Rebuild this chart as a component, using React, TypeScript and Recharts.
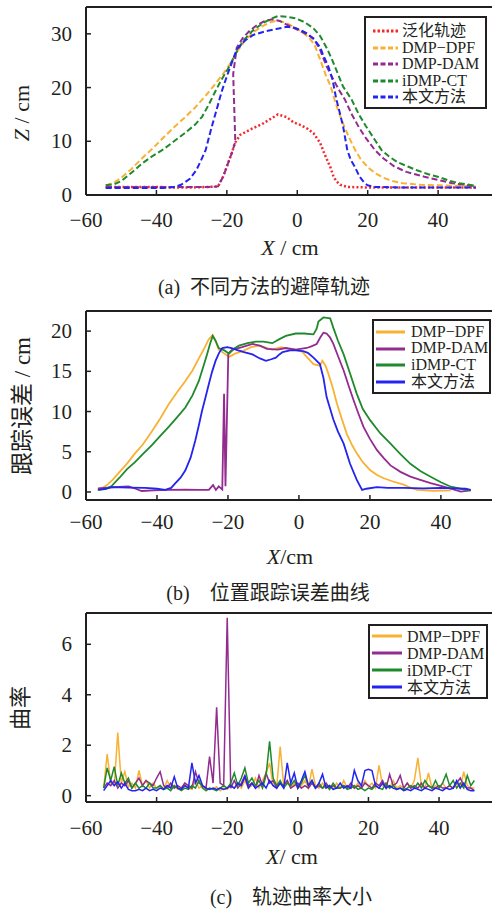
import React from 'react';
import { LineChart, Line, XAxis, YAxis, ReferenceLine } from 'recharts';

const SERIF = '"Liberation Serif", "Times New Roman", Tinos, "DejaVu Serif", "Noto Sans CJK SC", serif';
const INK = '#231f20';

const C_RED = '#f42a2a';
const C_ORANGE = '#f8b133';
const C_PURPLE = '#922c90';
const C_GREEN = '#1f8a2c';
const C_BLUE = '#2424f0';

// 图(a) 避障轨迹  X / Z (cm)
const aRedX = [-54.4, -50, -45, -40, -35, -30, -25, -22.5, -21, -20, -18.5, -17.7, -16.2, -13, -10, -7.5, -5.5, -3, -1, 1, 3, 4.6, 6.5, 7.5, 8.5, 9.5, 10.3, 11.2, 12.2, 14.2, 20, 30, 40, 50.7];
const aRedZ = [1.5, 1.5, 1.5, 1.5, 1.4, 1.4, 1.5, 1.6, 3.5, 5.3, 8, 9.7, 11.2, 12.3, 13.2, 14.2, 15, 14.5, 13.5, 13, 12.3, 11.5, 9.7, 8, 6.5, 5, 3.4, 2.5, 1.9, 1.5, 1.4, 1.4, 1.4, 1.4];

const aDpfX = [-54.4, -52, -50, -47, -44, -41, -38, -35, -32, -29, -26, -23.5, -21, -19, -17, -15, -12.5, -10, -7.5, -5.5, -3, -1, 1.5, 3.5, 5, 6.5, 8, 9.5, 10.7, 12, 13.5, 15, 16.5, 18, 20, 22, 24.5, 27, 30, 35, 40, 45, 50.7];
const aDpfZ = [1.8, 2.3, 3.2, 4.9, 6.9, 8.7, 10.7, 12.6, 14.4, 16.3, 18.5, 20.5, 22.6, 24.5, 26.8, 28.6, 30.3, 31.4, 32.2, 32.5, 32, 31.3, 30.3, 29.2, 27.8, 25.2, 22.5, 20.2, 17.5, 15, 12.5, 10.3, 8.3, 6.7, 5.2, 4.1, 3.2, 2.6, 2.2, 1.9, 1.8, 1.7, 1.6];

const aDamX = [-54.4, -45, -35, -25, -22.5, -21, -20, -18.5, -17.6, -18.2, -17.2, -15.5, -13.5, -11.5, -9.5, -7.2, -5, -2, 1, 3, 4.6, 6.5, 8.3, 10, 11.8, 13.5, 15.5, 17.5, 19.5, 22, 24.5, 27.6, 31, 36.1, 40, 44, 50.7];
const aDamZ = [1.5, 1.5, 1.5, 1.5, 1.6, 3.5, 5.3, 8, 9.9, 22.5, 27.4, 29.2, 30.6, 31.6, 32.3, 32.7, 32.4, 31.4, 30.5, 29.8, 29.2, 27, 24, 21.8, 19.6, 17.8, 15, 12.6, 10.6, 8.4, 6.8, 5.3, 4.3, 3.4, 2.8, 2.2, 1.6];

const aCtX = [-54.4, -52, -50, -47, -44, -41, -38, -35, -32, -29, -27, -25, -23.5, -21.5, -19.5, -17.5, -15.5, -13, -10, -7.5, -5.5, -3, -0.5, 2, 4.5, 6.5, 8.5, 10, 11.5, 13, 15.4, 17.5, 19.5, 22, 23.9, 26, 28.5, 31.4, 34, 37, 39.9, 43, 46, 50.7];
const aCtZ = [1.8, 2, 2.6, 4.2, 5.9, 7.3, 8.5, 10, 11.5, 13.1, 14.6, 17, 19, 21.5, 23.7, 26.3, 28.6, 30.4, 31.9, 32.8, 33.3, 33.2, 32.9, 32.2, 31.1, 29.6, 27.2, 25, 22.6, 20.2, 17.8, 15, 12.8, 10.3, 8.4, 7.2, 6.1, 5.3, 4.6, 3.9, 3.4, 2.7, 2.2, 1.7];

const aOursX = [-54.4, -48, -42, -38, -35, -33, -30.5, -28.6, -27.3, -26, -24.5, -22.9, -21.5, -20, -18.5, -17.2, -15, -12.5, -9, -6, -3, -1, 1, 3, 5, 6.5, 7.5, 8.8, 10, 11.1, 12, 13, 14.2, 15.2, 16.3, 17.7, 19, 20, 22, 30, 40, 50.7];
const aOursZ = [1.3, 1.3, 1.3, 1.3, 1.5, 1.9, 3, 4.7, 6.5, 8.4, 12.2, 15.9, 19.2, 22.1, 24.8, 27.1, 28.7, 29.8, 30.5, 30.9, 31.3, 31.2, 30.7, 30, 28.8, 27.5, 25.8, 24, 21.5, 17.8, 15.5, 12.8, 8.4, 6.5, 5.3, 3.4, 2.3, 1.8, 1.5, 1.4, 1.4, 1.4];

// 图(b) 位置跟踪误差  X / 误差 (cm)
const bDpfX = [-56.8, -55, -53.7, -52.5, -50.9, -48.5, -46.2, -44, -41.5, -39, -36.7, -34.5, -32, -30, -28.2, -26.5, -25.4, -24.3, -23.5, -22.6, -21, -19.7, -18, -16, -13.5, -11.3, -9, -7.5, -5, -3, -0.9, 1, 2.2, 4.1, 5.9, 6.6, 7.5, 8.3, 9.5, 10.7, 12, 13.5, 15, 16.3, 18, 20.1, 22, 23.9, 26.5, 29.5, 31.5, 33.3, 38, 42.8];
const bDpfE = [0.3, 0.6, 1, 1.5, 2.3, 3.5, 4.8, 5.9, 7.5, 9.2, 10.9, 12.3, 13.8, 15.1, 16.6, 18, 19, 19.5, 18.8, 17.7, 17.2, 16.8, 17.2, 17.5, 18, 18.2, 17.9, 17.7, 18, 17.8, 17.7, 17.4, 16.8, 15.9, 15.7, 16.3, 15.7, 14.7, 13, 11, 9.2, 7.2, 5.8, 4.8, 3.7, 2.7, 2.1, 1.7, 1.3, 0.9, 0.5, 0.25, 0.15, 0.2];

const bDamX = [-56.6, -52, -48, -46, -44.3, -41, -36.7, -32, -28, -25.4, -24.2, -23.4, -22.6, -21.6, -21.1, -20.7, -19.9, -18.8, -16, -13.1, -11, -9, -6, -3.7, -0.9, 2.2, 3.5, 5, 6, 6.9, 7.8, 8.8, 9.7, 11, 12.6, 14, 15.4, 16.8, 18.2, 20, 22, 23.9, 25.8, 28.6, 31.4, 34.2, 37.1, 40, 42.8, 45.6, 48.4];
const bDamE = [0.45, 0.6, 0.7, 0.4, 0.12, 0.2, 0.25, 0.3, 0.25, 0.25, 0.86, 0.25, 0.7, 0.3, 12.2, 0.7, 17.2, 17.7, 18, 18.4, 18.2, 17.8, 17.7, 17.9, 17.7, 17.9, 18.1, 18.4, 19.2, 19.8, 19.7, 19.2, 18.4, 16.9, 15.1, 13.2, 11.4, 9.7, 8.1, 6.6, 5.2, 4.2, 3.3, 2.5, 1.9, 1.5, 1.1, 0.75, 0.4, 0.05, 0.2];

const bCtX = [-56.6, -54.5, -52.8, -50.5, -48.5, -46.2, -44, -41.5, -39, -36.7, -34.3, -32, -30, -28.2, -27, -25.9, -25, -24.3, -23.5, -22.6, -21, -19.7, -18.3, -16.9, -14.5, -12.2, -10, -7.5, -5.5, -3.7, -0.9, 1.5, 4.1, 5, 5.5, 6.9, 8.8, 9.7, 11, 12.6, 14.5, 16.3, 18, 20.1, 22.9, 25.8, 28.6, 31.4, 34.2, 37.1, 40, 42.8, 45.5, 48.4];
const bCtE = [0.25, 0.35, 0.74, 1.8, 2.8, 3.7, 4.7, 5.8, 7, 8.1, 9.3, 10.5, 12, 13.8, 15.5, 17.1, 18.5, 19.4, 18.8, 17.9, 17.6, 17.2, 17.8, 18.2, 18.5, 18.7, 18.7, 18.5, 19, 19.4, 19.7, 19.7, 19.6, 20.3, 21.2, 21.7, 21.6, 20.4, 18.8, 17.1, 14.6, 12.2, 10.3, 8.9, 7.3, 6, 4.7, 3.5, 2.6, 1.9, 1.2, 0.65, 0.4, 0.2];

const bOursX = [-56.6, -54, -52.8, -48, -43.3, -40, -37.7, -36, -34.8, -33.3, -32, -30.5, -29.2, -28.2, -27.3, -26.3, -25.4, -24.5, -23.5, -22.5, -21.6, -20.2, -19, -17.8, -15.5, -13.1, -11, -9.3, -7.8, -6.5, -5.5, -4.6, -2.5, -0.9, 1.2, 2.5, 4.1, 5.9, 6.9, 7.8, 9.7, 11, 12.6, 14.4, 16.3, 17.8, 19, 22, 25, 29.5, 35, 39.9, 44, 47, 48.4];
const bOursE = [0.25, 0.45, 0.6, 0.55, 0.5, 0.4, 0.25, 0.5, 1.1, 1.8, 2.7, 4.3, 6.4, 8.3, 10.1, 11.8, 13.4, 14.9, 16.3, 17.3, 17.9, 18, 17.9, 17.7, 17.4, 17.1, 16.6, 16.3, 16.5, 16.7, 17.1, 17.4, 17.6, 17.6, 17.5, 17.3, 16.7, 15.9, 14.2, 11.8, 9, 7.5, 6, 3.5, 1.5, 0.25, 0.4, 0.6, 0.5, 0.5, 0.45, 0.5, 0.45, 0.4, 0.25];

// 图(c) 轨迹曲率  X / 曲率
const cX = [
  -55, -54, -53, -52, -51, -50, -49, -48, -47, -46,
  -45, -44, -43, -42, -41, -40, -39, -38, -37, -36,
  -35, -34, -33, -32, -31, -30, -29, -28, -27, -26,
  -25, -24, -23, -22, -21, -20, -19, -18, -17, -16,
  -15, -14, -13, -12, -11, -10, -9, -8, -7, -6,
  -5, -4, -3, -2, -1, 0, 1, 2, 3, 4,
  5, 6, 7, 8, 9, 10, 11, 12, 13, 14,
  15, 16, 17, 18, 19, 20, 21, 22, 23, 24,
  25, 26, 27, 28, 29, 30, 31, 32, 33, 34,
  35, 36, 37, 38, 39, 40, 41, 42, 43, 44,
  45, 46, 47, 48, 49, 50,
];
const cDpf = [
  0.3, 1.65, 0.5, 0.4, 2.5, 0.5, 0.95, 0.35, 0.5, 0.3,
  1.0, 0.4, 0.6, 0.3, 0.5, 0.3, 0.4, 0.25, 0.6, 0.3,
  0.4, 0.25, 0.3, 0.5, 0.3, 0.25, 0.6, 0.3, 0.4, 0.2,
  0.3, 0.25, 0.35, 0.2, 0.3, 0.25, 0.4, 0.3, 0.5, 0.3,
  0.6, 0.3, 0.4, 0.7, 0.3, 0.6, 0.9, 1.3, 0.4, 0.3,
  1.95, 0.4, 0.6, 0.3, 0.5, 0.3, 0.4, 0.6, 0.3, 1.05,
  0.4, 0.3, 0.5, 0.3, 0.4, 0.25, 0.5, 0.3, 0.6, 0.3,
  0.4, 0.3, 0.5, 0.3, 0.6, 0.35, 0.5, 0.3, 1.2, 0.4,
  0.5, 0.3, 0.6, 0.3, 0.4, 0.3, 0.5, 0.3, 0.6, 1.5,
  0.4, 0.3, 0.9, 0.3, 0.4, 0.3, 0.5, 0.3, 0.4, 0.3,
  0.5, 0.3, 0.95, 0.4, 0.3, 0.3,
];
const cDam = [
  0.3, 0.5, 0.4, 0.6, 0.3, 0.5, 0.4, 0.6, 0.3, 0.5,
  0.7, 0.4, 0.6, 0.5, 0.4, 0.7, 0.95, 0.4, 0.3, 0.5,
  0.3, 0.4, 0.3, 0.5, 0.4, 0.3, 0.95, 0.5, 0.4, 0.3,
  1.55, 0.5, 3.5, 0.5, 0.4, 7.05, 0.3, 0.6, 0.3, 0.5,
  0.8, 0.4, 0.5, 0.3, 0.8, 0.4, 0.9, 0.5, 0.6, 0.3,
  0.5, 0.4, 0.6, 0.3, 0.4, 0.5, 0.3, 0.4, 0.3, 0.5,
  0.3, 0.4, 0.3, 0.5, 0.3, 0.4, 0.3, 0.3, 0.4, 0.3,
  0.5, 0.3, 0.4, 0.3, 0.5, 0.4, 0.3, 0.5, 0.4, 0.6,
  0.3, 0.85, 0.4, 0.5, 0.8, 0.3, 0.5, 0.3, 0.4, 0.3,
  0.5, 0.3, 0.4, 0.3, 0.3, 0.4, 0.3, 0.3, 0.4, 0.3,
  0.5, 0.7, 0.4, 0.3, 0.3, 0.2,
];
const cCt = [
  0.3, 1.1, 0.6, 1.15, 0.4, 0.9, 0.5, 0.7, 0.3, 0.5,
  0.3, 0.4, 0.3, 0.5, 0.3, 0.3, 0.4, 0.25, 0.3, 0.2,
  0.4, 0.3, 0.2, 0.3, 0.25, 0.4, 0.3, 0.6, 0.3, 0.2,
  0.3, 0.25, 0.2, 0.3, 0.4, 0.3, 0.5, 0.9, 0.4, 0.7,
  1.1, 0.5, 0.7, 0.4, 0.6, 0.3, 0.8, 2.15, 0.7, 0.4,
  0.6, 0.3, 0.5, 0.4, 0.6, 0.3, 0.5, 0.8, 0.4, 0.6,
  0.3, 0.5, 0.3, 0.4, 0.25, 0.5, 0.3, 0.3, 0.4, 0.25,
  0.3, 0.4, 0.25, 0.3, 0.2, 0.3, 0.25, 0.4, 0.3, 0.25,
  0.5, 0.3, 0.4, 0.25, 0.3, 0.25, 0.3, 0.4, 0.3, 0.5,
  0.3, 0.6, 0.4, 0.3, 0.6, 0.3, 0.5, 0.85, 0.4, 0.6,
  0.3, 0.5, 0.3, 0.8, 0.4, 0.6,
];
const cOurs = [
  0.2, 0.4, 0.6, 0.4, 0.55, 0.3, 0.5, 0.25, 0.2, 0.2,
  0.25, 0.2, 0.3, 0.2, 0.25, 0.2, 0.3, 0.25, 0.4, 0.3,
  0.75, 0.3, 0.25, 0.4, 0.3, 1.3, 0.5, 0.8, 0.4, 0.3,
  0.25, 0.3, 0.25, 0.3, 0.25, 0.3, 0.4, 0.3, 0.5, 0.4,
  0.75, 0.3, 0.5, 0.3, 0.4, 0.5, 0.3, 0.6, 0.4, 0.3,
  0.5, 0.3, 1.3, 0.5, 0.9, 0.3, 0.6, 0.95, 0.4, 0.6,
  0.3, 0.5, 0.85, 0.3, 0.4, 0.25, 0.3, 0.5, 0.3, 0.4,
  0.3, 1.0, 0.6, 0.4, 1.0, 1.05, 1.0, 0.4, 0.3, 0.5,
  0.3, 0.4, 0.3, 0.25, 0.3, 0.2, 0.25, 0.2, 0.3, 0.25,
  0.2, 0.3, 0.25, 0.2, 0.3, 0.25, 0.2, 0.3, 0.25, 0.3,
  0.6, 0.3, 0.5, 0.25, 0.2, 0.2,
];

const xTicks = [-60, -40, -20, 0, 20, 40];

const pts = (xs: number[], ys: number[]) => xs.map((x, i) => ({ x, y: ys[i] }));
const fmt = (v: number) => String(v).replace('-', '\u2212');

// 刻度朝内
const makeXTick = (dy: number) => (props: any) => {
  const { x, y, payload } = props;
  return (
    <g>
      <line x1={x} y1={y} x2={x} y2={y - 5} stroke={INK} strokeWidth={1.5} />
      <text x={x} y={y + dy} textAnchor="middle" fontSize={21} fill={INK} style={{ fontFamily: SERIF }}>
        {fmt(payload.value)}
      </text>
    </g>
  );
};

const YTick = (props: any) => {
  const { x, y, payload } = props;
  return (
    <g>
      <line x1={x} y1={y} x2={x + 5} y2={y} stroke={INK} strokeWidth={1.5} />
      <text x={x - 14} y={y + 7} textAnchor="end" fontSize={21} fill={INK} style={{ fontFamily: SERIF }}>
        {payload.value}
      </text>
    </g>
  );
};

type LegendItem = { name: string; color: string; dash?: string };

function LegendBox({ items, left, top, width, rowH, sampleW, pad, gap, dashed }: {
  items: LegendItem[]; left: number; top: number; width: number; rowH: number;
  sampleW: number; pad: string; gap: number; dashed?: boolean;
}) {
  return (
    <div
      style={{
        position: 'absolute', left, top, width, boxSizing: 'border-box',
        border: `2px solid ${INK}`, padding: pad, background: '#fff',
        fontFamily: SERIF, fontSize: 16, color: INK,
      }}
    >
      {items.map((it) => (
        <div key={it.name} style={{ height: rowH, display: 'flex', alignItems: 'center', whiteSpace: 'nowrap' }}>
          <svg width={sampleW} height={6} style={{ marginRight: gap, flex: 'none' }}>
            <line x1={0} y1={3} x2={sampleW} y2={3} stroke={it.color} strokeWidth={3}
              strokeDasharray={dashed ? it.dash : undefined} />
          </svg>
          <span style={{ lineHeight: `${rowH}px` }}>{it.name}</span>
        </div>
      ))}
    </div>
  );
}

const txt: React.CSSProperties = {
  position: 'absolute', fontFamily: SERIF, color: INK, whiteSpace: 'nowrap',
  transform: 'translate(-50%, -50%)',
};
const rot: React.CSSProperties = { ...txt, transform: 'translate(-50%, -50%) rotate(-90deg)' };

const axisLine = { stroke: INK, strokeWidth: 2 };

function ChartA() {
  return (
    <div style={{ position: 'absolute', left: 0, top: 0, width: 492, height: 300 }}>
      <LineChart width={492} height={300} margin={{ top: 7, right: 0, left: 26, bottom: 75 }}>
        <XAxis dataKey="x" type="number" domain={[-60, 55.3]} ticks={xTicks} allowDataOverflow
          height={30} tickSize={0} tickMargin={0} axisLine={axisLine} tickLine={false} tick={makeXTick(32)} />
        <YAxis type="number" domain={[0, 35]} ticks={[0, 10, 20, 30]} allowDataOverflow
          width={60} tickSize={0} tickMargin={0} axisLine={axisLine} tickLine={false} tick={YTick} />
        <ReferenceLine y={35} stroke={INK} strokeWidth={2} />
        <Line data={pts(aRedX, aRedZ)} dataKey="y" stroke={C_RED} strokeWidth={2.5} strokeDasharray="2 2.2" dot={false} isAnimationActive={false} />
        <Line data={pts(aDpfX, aDpfZ)} dataKey="y" stroke={C_ORANGE} strokeWidth={2} strokeDasharray="6 3" dot={false} isAnimationActive={false} />
        <Line data={pts(aDamX, aDamZ)} dataKey="y" stroke={C_PURPLE} strokeWidth={2} strokeDasharray="6 3" dot={false} isAnimationActive={false} />
        <Line data={pts(aCtX, aCtZ)} dataKey="y" stroke={C_GREEN} strokeWidth={2} strokeDasharray="6 3" dot={false} isAnimationActive={false} />
        <Line data={pts(aOursX, aOursZ)} dataKey="y" stroke={C_BLUE} strokeWidth={2} strokeDasharray="6 3" dot={false} isAnimationActive={false} />
      </LineChart>
      <LegendBox
        left={364} top={16} width={123} rowH={16.5} sampleW={25} gap={4} pad="5px 0 1px 7px" dashed
        items={[
          { name: '泛化轨迹', color: C_RED, dash: '2.5 2' },
          { name: 'DMP\u2212DPF', color: C_ORANGE, dash: '5 2.5' },
          { name: 'DMP-DAM', color: C_PURPLE, dash: '5 2.5' },
          { name: 'iDMP-CT', color: C_GREEN, dash: '5 2.5' },
          { name: '本文方法', color: C_BLUE, dash: '5 2.5' },
        ]}
      />
      <div style={{ ...rot, left: 22, top: 113, fontSize: 22 }}><i>Z</i> / cm</div>
      <div style={{ ...txt, left: 290, top: 248, fontSize: 22 }}><i>X</i> / cm</div>
      <div style={{ ...txt, left: 264, top: 285, fontSize: 20 }}>(a)&nbsp; 不同方法的避障轨迹</div>
    </div>
  );
}

function ChartB() {
  return (
    <div style={{ position: 'absolute', left: 0, top: 300, width: 492, height: 310 }}>
      <LineChart width={492} height={310} margin={{ top: 11, right: 0, left: 26, bottom: 80 }}>
        <XAxis dataKey="x" type="number" domain={[-60, 54.4]} ticks={xTicks} allowDataOverflow
          height={30} tickSize={0} tickMargin={0} axisLine={axisLine} tickLine={false} tick={makeXTick(29)} />
        <YAxis type="number" domain={[-1, 22.5]} ticks={[0, 5, 10, 15, 20]} allowDataOverflow
          width={60} tickSize={0} tickMargin={0} axisLine={axisLine} tickLine={false} tick={YTick} />
        <ReferenceLine y={22.5} stroke={INK} strokeWidth={2} />
        <Line data={pts(bDpfX, bDpfE)} dataKey="y" stroke={C_ORANGE} strokeWidth={1.8} dot={false} isAnimationActive={false} />
        <Line data={pts(bDamX, bDamE)} dataKey="y" stroke={C_PURPLE} strokeWidth={1.8} dot={false} isAnimationActive={false} />
        <Line data={pts(bCtX, bCtE)} dataKey="y" stroke={C_GREEN} strokeWidth={1.8} dot={false} isAnimationActive={false} />
        <Line data={pts(bOursX, bOursE)} dataKey="y" stroke={C_BLUE} strokeWidth={1.8} dot={false} isAnimationActive={false} />
      </LineChart>
      <LegendBox
        left={372} top={19} width={119} rowH={16.7} sampleW={29} gap={6} pad="2.5px 0 1.5px 2px"
        items={[
          { name: 'DMP\u2212DPF', color: C_ORANGE },
          { name: 'DMP-DAM', color: C_PURPLE },
          { name: 'iDMP-CT', color: C_GREEN },
          { name: '本文方法', color: C_BLUE },
        ]}
      />
      <div style={{ ...rot, left: 20, top: 106, fontSize: 23 }}>跟踪误差 / cm</div>
      <div style={{ ...txt, left: 290, top: 257, fontSize: 22 }}><i>X</i>/cm</div>
      <div style={{ ...txt, left: 268, top: 291, fontSize: 20 }}>(b)&nbsp;&nbsp;&nbsp; 位置跟踪误差曲线</div>
    </div>
  );
}

function ChartC() {
  const data = (ys: number[]) => pts(cX, ys);
  return (
    <div style={{ position: 'absolute', left: 0, top: 610, width: 492, height: 301 }}>
      <LineChart width={492} height={301} margin={{ top: 3, right: 0, left: 26, bottom: 79 }}>
        <XAxis dataKey="x" type="number" domain={[-60, 55]} ticks={xTicks} allowDataOverflow
          height={30} tickSize={0} tickMargin={0} axisLine={axisLine} tickLine={false} tick={makeXTick(33)} />
        <YAxis type="number" domain={[-0.25, 7.24]} ticks={[0, 2, 4, 6]} allowDataOverflow
          width={60} tickSize={0} tickMargin={0} axisLine={axisLine} tickLine={false} tick={YTick} />
        <ReferenceLine y={7.24} stroke={INK} strokeWidth={2} />
        <Line data={data(cDpf)} dataKey="y" stroke={C_ORANGE} strokeWidth={1.5} dot={false} isAnimationActive={false} />
        <Line data={data(cDam)} dataKey="y" stroke={C_PURPLE} strokeWidth={1.5} dot={false} isAnimationActive={false} />
        <Line data={data(cCt)} dataKey="y" stroke={C_GREEN} strokeWidth={1.5} dot={false} isAnimationActive={false} />
        <Line data={data(cOurs)} dataKey="y" stroke={C_BLUE} strokeWidth={1.5} dot={false} isAnimationActive={false} />
      </LineChart>
      <LegendBox
        left={368} top={14} width={120} rowH={17} sampleW={30} gap={5} pad="1.5px 0 1.5px 2px"
        items={[
          { name: 'DMP\u2212DPF', color: C_ORANGE },
          { name: 'DMP-DAM', color: C_PURPLE },
          { name: 'iDMP-CT', color: C_GREEN },
          { name: '本文方法', color: C_BLUE },
        ]}
      />
      <div style={{ ...rot, left: 18, top: 98, fontSize: 22 }}>曲率</div>
      <div style={{ ...txt, left: 292, top: 247, fontSize: 22 }}><i>X</i>/ cm</div>
      <div style={{ ...txt, left: 291, top: 285, fontSize: 20 }}>(c)&nbsp;&nbsp;&nbsp; 轨迹曲率大小</div>
    </div>
  );
}

export default function App() {
  return (
    <div style={{ position: 'absolute', left: 0, top: 0, width: 492, height: 911, background: '#fff', overflow: 'hidden' }}>
      <ChartA />
      <ChartB />
      <ChartC />
    </div>
  );
}
